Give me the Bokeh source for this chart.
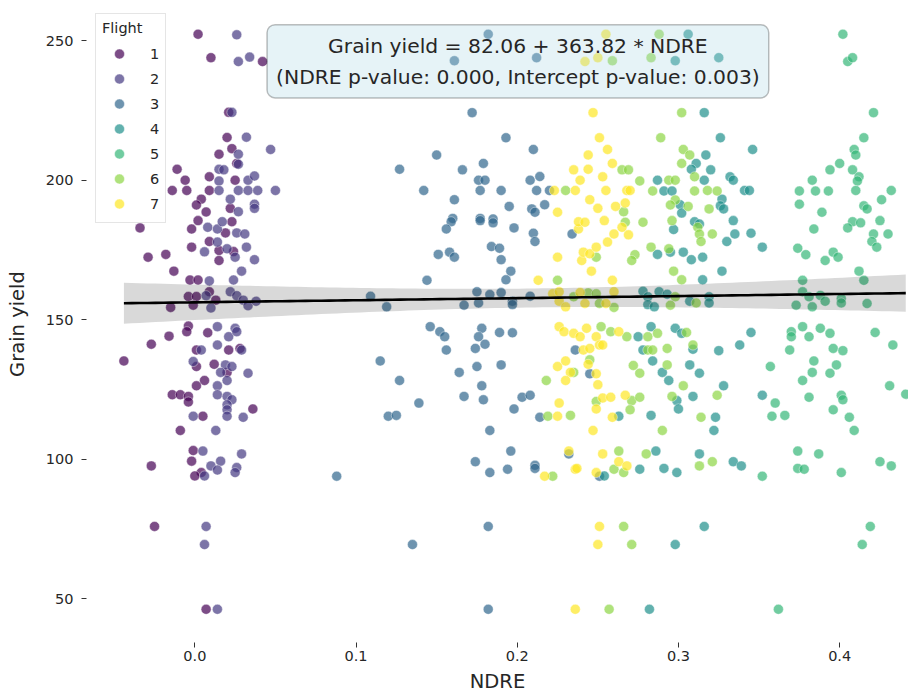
import numpy as np
from bokeh.plotting import figure
from bokeh.models import (Range1d, FixedTicker, NumeralTickFormatter, Legend,
                          LegendItem, Label)
from bokeh.palettes import Viridis256
from bokeh.embed import file_html
from bokeh.resources import INLINE

# ---------------- data ----------------
flights = [1, 2, 3, 4, 5, 6, 7]

f1_ndre = [0.002, 0.010, 0.042, 0.021, 0.020, 0.023, 0.015, 0.026, -0.011, -0.006,
           0.009, 0.025, -0.014, -0.005, 0.009, 0.004, 0.001, 0.007, 0.022, -0.034,
           0.002, -0.002, 0.019, 0.023, -0.029, -0.018, -0.002, 0.009, 0.015, 0.015,
           0.024, -0.013, -0.003, 0.002, -0.004, 0.001, 0.009, 0.013, -0.001, -0.015,
           -0.004, -0.005, -0.016, 0.008, -0.027, 0.001, 0.021, 0.028, -0.044, 0.001,
           0.012, 0.020, 0.006, 0.001, -0.014, -0.009, -0.004, -0.004, 0.036, 0.005,
           -0.009, -0.001, -0.027, -0.002, 0.004, 0.000, -0.025, 0.007]
f1_yield = [252.4, 244.0, 242.6, 224.4, 215.4, 211.4, 209.4, 206.1, 204.0, 200.1,
            201.3, 200.1, 196.4, 196.4, 196.4, 193.3, 191.2, 188.7, 190.0, 183.0,
            185.6, 182.6, 181.2, 185.2, 172.5, 173.5, 176.1, 178.1, 174.9, 171.3,
            174.5, 167.5, 164.3, 164.3, 158.4, 158.4, 160.1, 157.1, 155.3, 154.5,
            147.8, 145.8, 144.2, 145.4, 141.3, 139.2, 139.2, 139.8, 135.3, 133.3,
            134.1, 131.2, 128.3, 126.4, 123.2, 123.2, 122.6, 120.6, 118.1, 115.5,
            110.4, 103.2, 97.7, 99.4, 95.3, 94.1, 76.0, 46.3]

f2_ndre = [0.026, 0.027, 0.034, 0.023, 0.032, 0.047, 0.027, 0.027, 0.015, 0.018,
           0.015, 0.033, 0.037, 0.015, 0.027, 0.033, 0.039, 0.050, 0.022, 0.027,
           0.037, 0.037, 0.008, 0.014, 0.017, 0.026, 0.031, 0.006, 0.014, 0.020,
           0.025, 0.032, 0.037, 0.029, 0.009, 0.024, 0.007, 0.022, 0.026, 0.030,
           0.033, 0.038, 0.010, 0.014, 0.021, 0.025, 0.026, 0.014, 0.004, 0.029,
           -0.001, 0.019, 0.023, 0.016, 0.033, 0.020, 0.014, 0.014, 0.020, 0.023,
           0.020, 0.020, -0.001, 0.020, 0.030, 0.013, 0.005, 0.029, 0.010, 0.016,
           0.014, 0.026, 0.025, 0.006, 0.007, 0.006, 0.014]
f2_yield = [252.2, 242.6, 244.2, 224.4, 215.5, 211.1, 209.4, 205.8, 204.0, 203.8,
            199.8, 200.1, 201.6, 196.4, 196.4, 196.4, 196.4, 196.4, 193.3, 188.8,
            191.5, 190.0, 183.2, 182.6, 185.2, 181.2, 180.8, 174.4, 177.9, 175.5,
            172.5, 176.1, 171.6, 167.5, 164.0, 164.3, 158.7, 160.1, 158.7, 157.1,
            155.1, 156.7, 154.3, 147.6, 144.0, 147.0, 145.8, 141.0, 139.2, 139.2,
            135.1, 133.9, 133.3, 131.2, 130.9, 128.3, 126.4, 123.2, 122.6, 121.4,
            119.6, 117.8, 115.5, 115.5, 115.1, 110.4, 103.0, 102.0, 97.7, 99.4,
            96.2, 97.1, 95.3, 94.1, 76.0, 69.5, 46.3]

f3_ndre = [0.182, 0.161, 0.212, 0.172, 0.193, 0.210, 0.150, 0.127, 0.166, 0.179,
           0.176, 0.180, 0.208, 0.214, 0.142, 0.177, 0.190, 0.212, 0.220, 0.161,
           0.195, 0.209, 0.211, 0.217, 0.160, 0.177, 0.185, 0.159, 0.156, 0.177,
           0.185, 0.198, 0.210, 0.211, 0.234, 0.151, 0.158, 0.161, 0.184, 0.189,
           0.190, 0.196, 0.193, 0.144, 0.109, 0.119, 0.167, 0.175, 0.176, 0.183,
           0.190, 0.197, 0.197, 0.208, 0.146, 0.152, 0.155, 0.178, 0.176, 0.189,
           0.197, 0.156, 0.174, 0.180, 0.236, 0.115, 0.175, 0.190, 0.164, 0.127,
           0.178, 0.139, 0.167, 0.179, 0.203, 0.208, 0.198, 0.120, 0.125, 0.214,
           0.183, 0.196, 0.174, 0.183, 0.194, 0.211, 0.211, 0.232, 0.088, 0.182,
           0.135, 0.182, 0.245, 0.251]
f3_yield = [252.4, 242.9, 244.0, 224.3, 215.3, 211.1, 209.1, 204.0, 203.8, 206.1,
            200.1, 200.1, 200.1, 201.4, 196.4, 196.4, 196.4, 196.4, 196.4, 193.1,
            190.7, 189.8, 188.6, 191.3, 186.4, 186.4, 186.2, 185.2, 182.6, 185.6,
            184.8, 183.0, 181.1, 178.1, 180.8, 173.5, 174.3, 172.5, 176.3, 175.7,
            171.6, 167.5, 164.4, 164.2, 158.5, 154.7, 155.3, 160.1, 156.1, 159.1,
            159.8, 156.7, 155.5, 158.5, 147.6, 145.8, 144.0, 147.0, 144.0, 145.5,
            145.4, 139.2, 139.8, 141.3, 139.2, 135.3, 133.3, 133.9, 131.2, 128.3,
            126.4, 120.2, 122.6, 121.4, 122.3, 123.0, 118.1, 115.5, 115.8, 115.1,
            110.4, 103.0, 99.2, 95.3, 96.5, 97.9, 96.8, 102.0, 94.0, 76.0,
            69.5, 46.3, 130.7, 94.0]

f4_ndre = [0.306, 0.298, 0.325, 0.316, 0.326, 0.317, 0.346, 0.311, 0.308, 0.320,
           0.287, 0.316, 0.332, 0.334, 0.291, 0.296, 0.341, 0.344, 0.301, 0.327,
           0.326, 0.328, 0.297, 0.302, 0.310, 0.313, 0.334, 0.335, 0.330, 0.345,
           0.352, 0.287, 0.295, 0.303, 0.308, 0.315, 0.327, 0.315, 0.278, 0.281,
           0.288, 0.293, 0.281, 0.285, 0.307, 0.319, 0.319, 0.275, 0.283, 0.298,
           0.302, 0.345, 0.278, 0.309, 0.325, 0.338, 0.284, 0.290, 0.294, 0.307,
           0.313, 0.328, 0.263, 0.299, 0.300, 0.309, 0.283, 0.323, 0.352,
           0.322, 0.286, 0.313, 0.254, 0.276, 0.291, 0.299, 0.334, 0.339, 0.316,
           0.298, 0.282]
f4_yield = [252.4, 242.9, 244.0, 224.3, 215.3, 209.1, 211.1, 206.1, 204.0, 203.8,
            200.1, 200.1, 201.3, 200.1, 196.2, 196.2, 196.4, 196.4, 191.3, 193.3,
            190.9, 189.8, 182.4, 188.3, 185.2, 184.4, 185.6, 180.8, 178.1, 181.1,
            176.1, 173.5, 174.3, 174.3, 171.6, 172.5, 167.5, 164.4, 160.3, 158.3,
            160.1, 159.2, 155.5, 154.7, 156.7, 158.3, 156.1, 144.0, 147.6, 147.0,
            145.2, 145.5, 139.2, 139.5, 139.0, 141.0, 135.3, 131.2, 128.3, 133.9,
            130.9, 126.4, 115.5, 121.1, 118.1, 122.6, 115.8, 115.1, 123.0,
            110.4, 103.0, 102.0, 94.1, 96.5, 96.8, 95.3, 99.2, 97.7, 76.0,
            69.5, 46.3]

f5_ndre = [0.402, 0.405, 0.408, 0.421, 0.415, 0.409, 0.410, 0.400, 0.394, 0.408,
           0.383, 0.412, 0.411, 0.375, 0.385, 0.393, 0.410, 0.432, 0.375, 0.389,
           0.415, 0.417, 0.426, 0.384, 0.408, 0.413, 0.405, 0.425, 0.421, 0.430,
           0.420, 0.423, 0.374, 0.379, 0.391, 0.396, 0.399, 0.412, 0.377, 0.415,
           0.377, 0.381, 0.388, 0.391, 0.401, 0.401, 0.373, 0.383, 0.417, 0.370,
           0.370, 0.377, 0.381, 0.388, 0.394, 0.422, 0.369, 0.396, 0.402, 0.433,
           0.357, 0.384, 0.383, 0.398, 0.394, 0.377, 0.431, 0.360, 0.358, 0.366,
           0.381, 0.396, 0.401, 0.402, 0.406, 0.441, 0.409, 0.352, 0.374, 0.387,
           0.374, 0.378, 0.401, 0.425, 0.432, 0.419, 0.414, 0.362]
f5_yield = [252.4, 242.6, 244.0, 224.3, 215.3, 211.1, 209.1, 206.1, 203.8, 203.8,
            200.1, 201.3, 199.8, 196.2, 196.2, 196.2, 196.4, 196.4, 191.5, 188.6,
            190.9, 189.8, 193.1, 182.6, 185.2, 184.8, 183.0, 185.6, 180.8, 180.8,
            178.1, 176.1, 175.7, 173.4, 171.3, 174.3, 172.5, 167.5, 164.2, 164.2,
            160.1, 158.3, 158.8, 156.7, 157.7, 156.1, 155.3, 154.7, 155.9, 145.8,
            144.0, 147.6, 144.0, 147.0, 145.2, 145.5, 139.2, 139.8, 139.0, 141.0,
            133.3, 135.3, 131.2, 133.9, 130.9, 128.3, 126.4, 120.2, 115.5, 115.8,
            122.3, 117.8, 123.0, 121.4, 115.1, 123.4, 110.4, 94.0, 103.0, 102.0,
            96.8, 96.5, 95.3, 99.2, 97.7, 76.0, 69.5, 46.3]

f6_ndre = [0.288, 0.259, 0.283, 0.302, 0.289, 0.303, 0.307, 0.302, 0.265, 0.269,
           0.276, 0.294, 0.298, 0.310, 0.230, 0.284, 0.310, 0.318, 0.324, 0.266,
           0.298, 0.295, 0.306, 0.319, 0.267, 0.278, 0.296, 0.312, 0.313, 0.314,
           0.321, 0.283, 0.273, 0.271, 0.294, 0.249, 0.297, 0.302, 0.225, 0.235,
           0.244, 0.249, 0.251, 0.260, 0.298, 0.295, 0.311, 0.252, 0.258, 0.268,
           0.281, 0.287, 0.305, 0.281, 0.284, 0.293, 0.309, 0.235, 0.245, 0.272,
           0.276, 0.293, 0.218, 0.303, 0.249, 0.271, 0.276, 0.270, 0.296, 0.324,
           0.219, 0.233, 0.314, 0.290, 0.263, 0.280, 0.260, 0.266, 0.313, 0.321,
           0.222, 0.266, 0.271, 0.257]
f6_yield = [252.4, 242.9, 244.0, 224.3, 215.3, 211.1, 209.1, 206.1, 203.8, 203.8,
            199.8, 200.1, 200.1, 201.3, 196.4, 196.2, 196.2, 196.4, 196.2, 188.8,
            193.0, 191.2, 190.7, 189.8, 185.0, 185.0, 185.6, 183.2, 180.8, 178.1,
            180.8, 176.1, 173.4, 171.3, 175.5, 172.5, 167.5, 164.4, 164.2, 158.3,
            159.7, 159.4, 155.9, 154.5, 158.3, 155.3, 156.1, 147.6, 145.8, 144.0,
            144.0, 145.2, 145.5, 139.2, 139.2, 139.8, 141.0, 131.2, 135.7, 133.7,
            130.9, 133.9, 128.3, 126.4, 120.8, 121.1, 122.3, 117.8, 122.6, 123.0,
            115.5, 115.8, 115.1, 110.4, 103.0, 102.0, 96.5, 95.3, 97.7, 99.2,
            94.0, 76.0, 69.5, 46.3]

f7_ndre = [0.255, 0.242, 0.250, 0.247, 0.251, 0.244, 0.256, 0.235, 0.244, 0.259,
           0.239, 0.253, 0.223, 0.236, 0.255, 0.268, 0.270, 0.225, 0.245, 0.250,
           0.261, 0.267, 0.238, 0.238, 0.242, 0.254, 0.260, 0.265, 0.269, 0.256,
           0.225, 0.240, 0.241, 0.245, 0.249, 0.213, 0.246, 0.259, 0.222, 0.226,
           0.226, 0.230, 0.239, 0.242, 0.260, 0.255, 0.226, 0.229, 0.235, 0.239,
           0.243, 0.249, 0.263, 0.241, 0.245, 0.251, 0.253, 0.225, 0.230, 0.233,
           0.244, 0.249, 0.230, 0.250, 0.226, 0.249, 0.225, 0.253, 0.258, 0.267,
           0.259, 0.247, 0.232, 0.253, 0.263, 0.268, 0.217, 0.236, 0.237, 0.249,
           0.251, 0.250, 0.236]
f7_yield = [252.4, 242.6, 244.0, 224.3, 215.3, 209.1, 211.1, 203.8, 204.0, 206.1,
            200.1, 201.3, 196.4, 196.4, 196.4, 196.4, 196.4, 188.6, 193.1, 190.0,
            190.7, 191.9, 182.6, 185.2, 185.0, 185.6, 180.8, 183.2, 180.5, 177.9,
            172.5, 171.3, 174.3, 173.7, 176.1, 164.2, 167.5, 164.2, 159.4, 160.1,
            156.7, 154.7, 159.8, 155.9, 160.1, 155.9, 147.6, 145.8, 145.2, 144.0,
            147.0, 144.0, 145.8, 139.2, 139.8, 141.0, 141.0, 133.3, 135.3, 131.2,
            134.1, 130.7, 128.3, 126.8, 120.2, 118.1, 115.5, 122.0, 122.3, 123.0,
            115.1, 110.4, 103.0, 102.0, 99.2, 97.7, 94.0, 96.5, 96.8, 95.3,
            76.0, 69.5, 46.3]

x_ticks = [0.0, 0.1, 0.2, 0.3, 0.4]
y_ticks = [50, 100, 150, 200, 250]

equation_text = ("Grain yield = 82.06 + 363.82 * NDRE\n"
                 "(NDRE p-value: 0.000, Intercept p-value: 0.003)")

ndre_by_flight = [f1_ndre, f2_ndre, f3_ndre, f4_ndre, f5_ndre, f6_ndre, f7_ndre]
yield_by_flight = [f1_yield, f2_yield, f3_yield, f4_yield, f5_yield, f6_yield, f7_yield]

# ---------------- figure ----------------
FONT = "DejaVu Sans"
p = figure(width=908, height=695,
           x_range=Range1d(-0.0672, 0.4427), y_range=Range1d(34.4, 262.7),
           output_backend="svg", toolbar_location=None,
           min_border_left=86, min_border_right=0,
           min_border_top=5, min_border_bottom=52,
           x_axis_label="NDRE", y_axis_label="Grain yield")
p.background_fill_color = "white"
p.border_fill_color = "white"
p.outline_line_color = None
p.grid.visible = False

colors = [Viridis256[int(round((k - 1) / 6 * 255))] for k in flights]

renderers = []
for k, xs, ys, c in zip(flights, ndre_by_flight, yield_by_flight, colors):
    r = p.scatter(xs, ys, size=10, fill_color=c, fill_alpha=0.7,
                  line_color="white", line_alpha=0.7, line_width=0.6)
    renderers.append(r)

# regression line (OLS) with 95% confidence band
all_x = np.concatenate([np.asarray(a, float) for a in ndre_by_flight])
all_y = np.concatenate([np.asarray(a, float) for a in yield_by_flight])
slope, intercept = np.polyfit(all_x, all_y, 1)
n = len(all_x)
resid = all_y - (intercept + slope * all_x)
s = np.sqrt(np.sum(resid ** 2) / (n - 2))
xm = all_x.mean()
sxx = np.sum((all_x - xm) ** 2)
xg = np.linspace(all_x.min(), all_x.max(), 100)
yg = intercept + slope * xg
se = s * np.sqrt(1.0 / n + (xg - xm) ** 2 / sxx)
p.varea(x=xg, y1=yg - 1.96 * se, y2=yg + 1.96 * se,
        fill_color="black", fill_alpha=0.15)
p.line(xg, yg, line_color="black", line_width=2.6)

# axes
for ax in (p.xaxis, p.yaxis):
    ax.axis_line_color = None
    ax.major_tick_line_color = "#333333"
    ax.major_tick_out = 5
    ax.major_tick_in = 0
    ax.minor_tick_line_color = None
    ax.major_label_text_font = FONT
    ax.major_label_text_font_size = "14.5px"
    ax.major_label_text_color = "#262626"
    ax.axis_label_text_font = FONT
    ax.axis_label_text_font_size = "19.5px"
    ax.axis_label_text_font_style = "normal"
    ax.axis_label_text_color = "#262626"
p.xaxis.ticker = FixedTicker(ticks=x_ticks)
p.xaxis.formatter = NumeralTickFormatter(format="0.0")
p.xaxis.major_label_standoff = 3
p.xaxis.axis_label_standoff = 6
p.yaxis.ticker = FixedTicker(ticks=y_ticks)
p.yaxis.major_label_standoff = 8
p.yaxis.axis_label_standoff = 14

# legend
legend = Legend(items=[LegendItem(label=str(k), renderers=[r])
                       for k, r in zip(flights, renderers)],
                location=(9, 419), title="Flight", margin=0, padding=6,
                spacing=0, glyph_width=34, glyph_height=25, label_height=25,
                label_width=8, label_standoff=14, title_standoff=5,
                title_text_font=FONT, title_text_font_size="14.5px",
                title_text_font_style="normal", title_text_color="#262626",
                label_text_font=FONT, label_text_font_size="14.5px",
                label_text_color="#262626",
                border_line_color="#cccccc", border_line_width=1,
                background_fill_color="white", background_fill_alpha=0.8)
p.add_layout(legend)

# equation annotation
lab = Label(x=0.2004, y=242.7, text=equation_text,
            text_align="center", text_baseline="middle",
            text_font=FONT, text_font_size="20.3px", text_color="#262626",
            text_line_height=1.3,
            background_fill_color="lightblue", background_fill_alpha=0.3,
            border_line_color="black", border_line_alpha=0.25,
            border_line_width=1.5, padding=9, border_radius=8)
p.add_layout(lab)

open("out.html", "w").write(file_html(p, INLINE))
